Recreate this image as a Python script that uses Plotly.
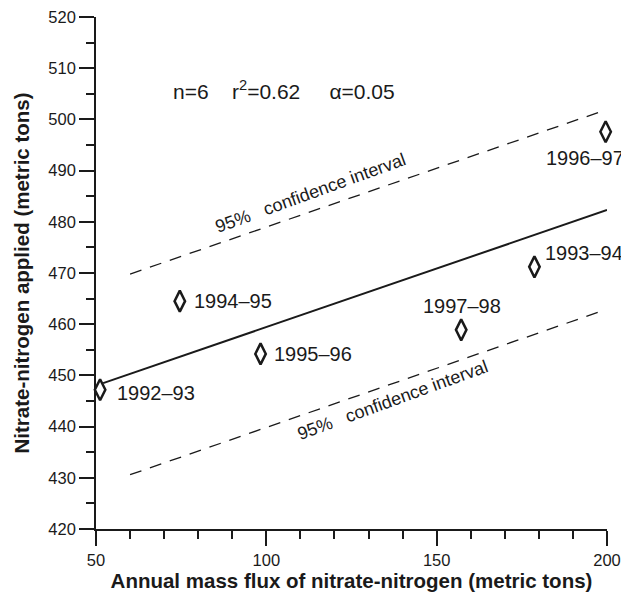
import plotly.graph_objects as go

# data
flux = [51.2, 74.6, 98.3, 157.2, 178.7, 199.6]
applied = [447.2, 464.5, 454.2, 458.9, 471.2, 497.6]
years = ["1992–93", "1994–95", "1995–96", "1997–98", "1993–94", "1996–97"]

fit_x = [52.1, 200]
fit_y = [448.5, 482.3]
ci_x = [60, 199]
ci_upper = [469.8, 501.7]
ci_lower = [430.6, 462.7]

FONT = "Liberation Sans, Arial, sans-serif"
INK = "#1a1a1a"

# label offsets in px from each marker (anchor, xshift, yshift)
label_off = [("left", 15, -3), ("left", 12, 0), ("left", 11, 0),
             ("center", 1, 24), ("left", 9, 14), ("left", -62, -26)]

fig = go.Figure()
fig.add_trace(go.Scatter(x=fit_x, y=fit_y, mode="lines",
                         line=dict(color=INK, width=2), cliponaxis=False))
for ys in (ci_upper, ci_lower):
    fig.add_trace(go.Scatter(x=ci_x, y=ys, mode="lines",
                             line=dict(color=INK, width=1.3, dash="12px,9px"),
                             cliponaxis=False))
fig.add_trace(go.Scatter(x=flux, y=applied, mode="markers",
                         marker=dict(symbol="diamond-tall-open", size=15, color=INK,
                                     line=dict(width=2.5, color=INK)),
                         cliponaxis=False))

for xv, yv, lab, (anc, dx, dy) in zip(flux, applied, years, label_off):
    fig.add_annotation(x=xv, y=yv, text=lab, showarrow=False, xanchor=anc,
                       yanchor="middle", xshift=dx, yshift=dy,
                       font=dict(family=FONT, size=20, color=INK))

sp = "\u00a0"
fig.add_annotation(x=0.147, y=0.858, xref="paper", yref="paper", showarrow=False,
                   xanchor="left", yanchor="middle",
                   text=f"n=6{sp*4}r<sup>2</sup>=0.62{sp*5}α=0.05",
                   font=dict(family=FONT, size=21, color=INK))
for cx, cy in ((0.42, 0.656), (0.581, 0.252)):
    fig.add_annotation(x=cx, y=cy, xref="paper", yref="paper", showarrow=False,
                       xanchor="center", yanchor="middle",
                       text=f"95%{sp*3}confidence interval", textangle=-20,
                       font=dict(family=FONT, size=18, color=INK))

axis_common = dict(showgrid=False, zeroline=False, showline=True, linecolor=INK,
                   linewidth=1.6, ticks="outside", ticklen=15, tickwidth=1.6,
                   tickcolor=INK, automargin=False, ticklabeloverflow="allow",
                   tickfont=dict(family=FONT, size=16.5, color=INK))
fig.update_xaxes(range=[50, 200], tickvals=[50, 100, 150, 200],
                 minor=dict(dtick=10, tick0=50, ticks="outside", ticklen=8,
                            tickwidth=1.6, tickcolor=INK),
                 title=dict(text="<b>Annual mass flux of nitrate-nitrogen (metric tons)</b>",
                            font=dict(family=FONT, size=20.5, color=INK), standoff=5),
                 **axis_common)
fig.update_yaxes(range=[420, 520], dtick=10,
                 minor=dict(dtick=5, ticks="outside", ticklen=8,
                            tickwidth=1.6, tickcolor=INK),
                 title=dict(text="<b>Nitrate-nitrogen applied (metric tons)</b>",
                            font=dict(family=FONT, size=20.5, color=INK), standoff=13),
                 **axis_common)
fig.update_layout(width=621, height=598, showlegend=False,
                  margin=dict(l=96, r=14, t=17, b=69),
                  plot_bgcolor="white", paper_bgcolor="white")
# drop the default 8px body margin so the figure fills the window exactly
fig.write_html("out.html", config={"displayModeBar": False},
               post_script="document.body.style.margin='0';document.body.style.overflow='hidden';")
